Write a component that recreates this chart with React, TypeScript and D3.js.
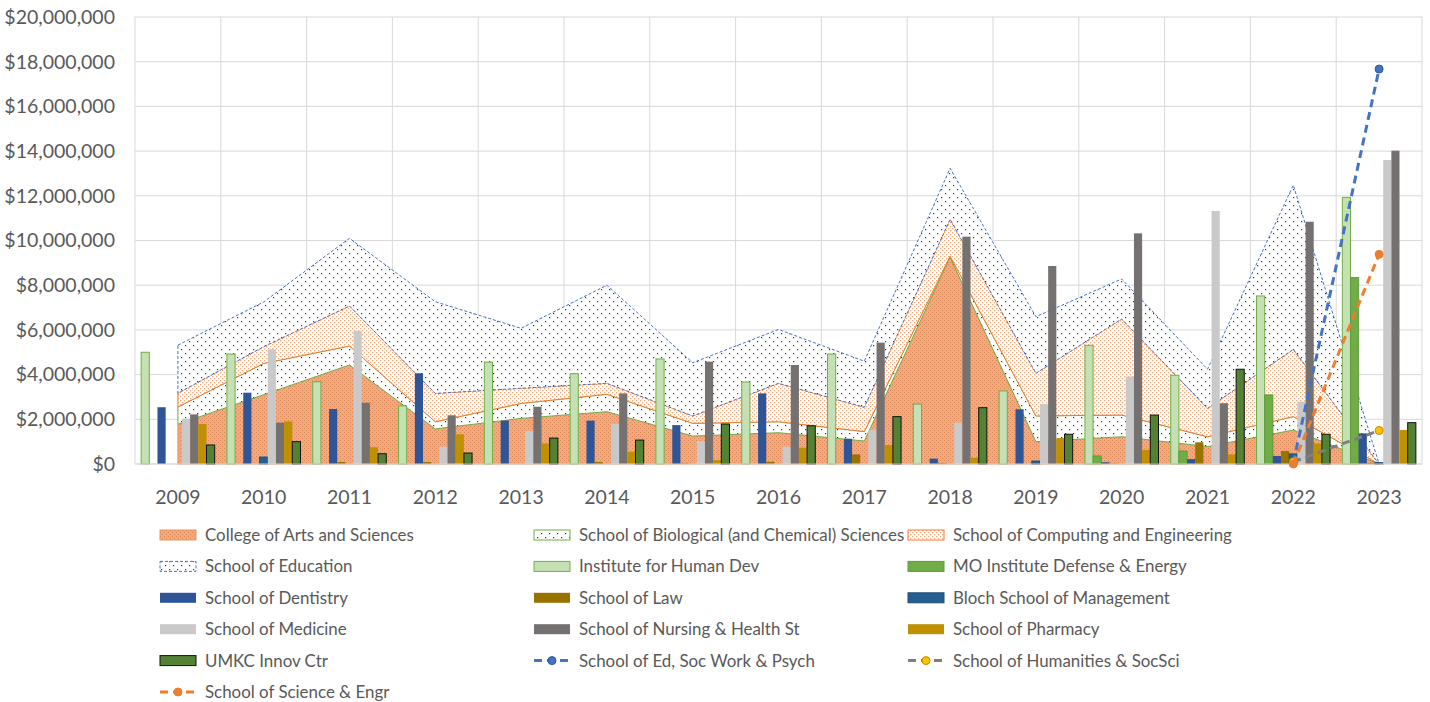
import * as d3 from "d3";

// values in millions of dollars
const years = ["2009", "2010", "2011", "2012", "2013", "2014", "2015", "2016", "2017", "2018", "2019", "2020", "2021", "2022", "2023"];

// stacked areas
const artsSci = [1.78, 3.1, 4.43, 1.57, 2.04, 2.34, 1.25, 1.4, 1.03, 9.25, 1.0, 1.22, 0.78, 1.52, 0];
const bioSci = [0.77, 1.4, 0.85, 0.32, 0.67, 0.78, 0.57, 0.49, 0.42, 0.05, 1.15, 0.97, 0.44, 0.6, 0];
const compEng = [0.62, 0.75, 1.79, 1.27, 0.68, 0.49, 0.33, 1.72, 1.09, 1.65, 1.91, 4.3, 1.27, 3.01, 0];
const education = [2.15, 2.0, 3.03, 4.1, 2.68, 4.39, 2.38, 2.41, 2.06, 2.28, 2.53, 1.79, 1.75, 7.35, 0];

// clustered bars
const humanDev = [5.0, 4.92, 3.68, 2.6, 4.56, 4.04, 4.7, 3.67, 4.92, 2.68, 3.27, 5.31, 3.97, 7.52, 11.93];
const moDefense = [0, 0, 0, 0, 0, 0, 0, 0, 0, 0, 0, 0.36, 0.58, 3.09, 8.34];
const dentistry = [2.54, 3.19, 2.46, 4.06, 1.94, 1.94, 1.74, 3.16, 1.13, 0.24, 2.45, 0.08, 0.22, 0.36, 1.37];
const law = [0, 0, 0.09, 0.09, 0, 0.09, 0.03, 0.1, 0.43, 0.04, 0, 0.02, 0.97, 0.58, 0.05];
const bloch = [0, 0.31, 0, 0, 0, 0, 0, 0, 0, 0, 0.13, 0, 0, 0.45, 0.06];
const medicine = [2.03, 5.13, 5.96, 0.78, 1.48, 1.79, 1.03, 0.78, 1.52, 1.85, 2.68, 3.91, 11.32, 2.79, 13.6];
const nursing = [2.22, 1.85, 2.74, 2.18, 2.56, 3.16, 4.58, 4.43, 5.43, 10.17, 8.86, 10.32, 2.72, 10.84, 14.02];
const pharmacy = [1.79, 1.91, 0.75, 1.33, 0.92, 0.55, 0.18, 0.73, 0.85, 0.28, 1.16, 0.63, 0.43, 0.92, 1.52];
const innovCtr = [0.85, 1.0, 0.46, 0.49, 1.16, 1.07, 1.79, 1.71, 2.12, 2.52, 1.33, 2.19, 4.24, 1.33, 1.85];

// lines (only the last two years)
const edSocWork = [null, null, null, null, null, null, null, null, null, null, null, null, null, 0.05, 17.67];
const humSocSci = [null, null, null, null, null, null, null, null, null, null, null, null, null, 0.1, 1.5];
const sciEngr = [null, null, null, null, null, null, null, null, null, null, null, null, null, 0, 9.38];

const yTicks = [0, 2, 4, 6, 8, 10, 12, 14, 16, 18, 20];
const yTickLabels = ["$0", "$2,000,000", "$4,000,000", "$6,000,000", "$8,000,000", "$10,000,000", "$12,000,000", "$14,000,000", "$16,000,000", "$18,000,000", "$20,000,000"];

const FONT = "Lato, 'Open Sans', sans-serif";
const TXT = "#595959";

type AreaDef = { key: string; label: string; values: number[]; fill: string; stroke: string; dash?: string };
type BarDef = { key: string; label: string; values: number[]; fill: string; stroke?: string };
type LineDef = { key: string; label: string; values: (number | null)[]; color: string; marker: string; markerStroke: string };

const areas: AreaDef[] = [
  { key: "arts", label: "College of Arts and Sciences", values: artsSci, fill: "url(#patArts)", stroke: "#E9965F" },
  { key: "bio", label: "School of Biological (and Chemical) Sciences", values: bioSci, fill: "url(#patDots)", stroke: "#70AD47" },
  { key: "comp", label: "School of Computing and Engineering", values: compEng, fill: "url(#patComp)", stroke: "#ED7D31" },
  { key: "edu", label: "School of Education", values: education, fill: "url(#patDots)", stroke: "#4472C4", dash: "3 2" },
];

const bars: BarDef[] = [
  { key: "ihd", label: "Institute for Human Dev", values: humanDev, fill: "#C5E0B4", stroke: "#70AD47" },
  { key: "mo", label: "MO Institute Defense & Energy", values: moDefense, fill: "#70AD47", stroke: "#5E9A3A" },
  { key: "dent", label: "School of Dentistry", values: dentistry, fill: "#2F5597" },
  { key: "law", label: "School of Law", values: law, fill: "#997300" },
  { key: "bloch", label: "Bloch School of Management", values: bloch, fill: "#255E91", stroke: "#1F4E79" },
  { key: "med", label: "School of Medicine", values: medicine, fill: "#C9C9C9" },
  { key: "nurs", label: "School of Nursing & Health St", values: nursing, fill: "#767171" },
  { key: "pharm", label: "School of Pharmacy", values: pharmacy, fill: "#BF9000" },
  { key: "umkc", label: "UMKC Innov Ctr", values: innovCtr, fill: "#548235", stroke: "#111" },
];

const lines: LineDef[] = [
  { key: "esw", label: "School of Ed, Soc Work & Psych", values: edSocWork, color: "#4472C4", marker: "#4472C4", markerStroke: "#2F5597" },
  { key: "hum", label: "School of Humanities & SocSci", values: humSocSci, color: "#7F7F7F", marker: "#FFC000", markerStroke: "#BF9000" },
  { key: "sci", label: "School of Science & Engr", values: sciEngr, color: "#ED7D31", marker: "#ED7D31", markerStroke: "#ED7D31" },
];

const legendOrder: string[] = [
  "arts", "bio", "comp",
  "edu", "ihd", "mo",
  "dent", "law", "bloch",
  "med", "nurs", "pharm",
  "umkc", "esw", "hum",
  "sci",
];

const PLOT = { left: 135, right: 1422, top: 17, bottom: 464 };

export default function App() {
  const x = d3.scaleBand<string>().domain(years).range([PLOT.left, PLOT.right]).padding(0);
  const xc = (yr: string) => x(yr)! + x.bandwidth() / 2;
  const inner = d3
    .scaleBand<string>()
    .domain(bars.map((b) => b.key))
    .range([0, x.bandwidth()])
    .paddingInner(0)
    .paddingOuter(0.75);
  const y = d3.scaleLinear().domain([0, 20]).range([PLOT.bottom, PLOT.top]);

  const table = years.map((yr, i) => {
    const row: Record<string, number | string> = { year: yr };
    areas.forEach((a) => (row[a.key] = a.values[i]));
    return row;
  });
  const stacked = d3.stack<Record<string, number | string>>().keys(areas.map((a) => a.key))(table as any);
  const areaGen = d3
    .area<d3.SeriesPoint<Record<string, number | string>>>()
    .x((d) => xc(d.data.year as string))
    .y0((d) => y(d[0]))
    .y1((d) => y(d[1]));

  const lineGen = d3
    .line<{ yr: string; v: number | null }>()
    .defined((d) => d.v != null)
    .x((d) => xc(d.yr))
    .y((d) => y(d.v as number));

  const allDefs: Record<string, { kind: "area" | "bar" | "line"; def: any }> = {};
  areas.forEach((a) => (allDefs[a.key] = { kind: "area", def: a }));
  bars.forEach((b) => (allDefs[b.key] = { kind: "bar", def: b }));
  lines.forEach((l) => (allDefs[l.key] = { kind: "line", def: l }));

  const colX = [205, 579, 953];
  const rowY = (r: number) => 535 + r * 31.4;

  return (
    <svg
      width={1430}
      height={702}
      style={{ position: "absolute", left: 0, top: 0, background: "#fff" }}
      fontFamily={FONT}
    >
      <defs>
        <pattern id="patArts" width={4} height={4} patternUnits="userSpaceOnUse">
          <rect width={4} height={4} fill="#F1A97F" />
          <rect x={0} y={0} width={1} height={1} fill="#DB8454" />
          <rect x={2} y={2} width={1} height={1} fill="#DB8454" />
        </pattern>
        <pattern id="patComp" width={4} height={4} patternUnits="userSpaceOnUse">
          <rect width={4} height={4} fill="#fff" />
          <rect x={0} y={0} width={1.3} height={1.3} fill="#F2A97C" />
          <rect x={2} y={2} width={1.3} height={1.3} fill="#F2A97C" />
        </pattern>
        <pattern id="patDots" width={8} height={8} patternUnits="userSpaceOnUse">
          <rect width={8} height={8} fill="#fff" />
          <rect x={1} y={1} width={1.2} height={1.2} fill="#333" />
          <rect x={5} y={5} width={1.2} height={1.2} fill="#333" />
        </pattern>
      </defs>

      {/* gridlines */}
      <g stroke="#D9D9D9" strokeWidth={1}>
        {yTicks.map((t) => (
          <line key={"h" + t} x1={PLOT.left} x2={PLOT.right} y1={y(t)} y2={y(t)} />
        ))}
        {years.map((yr) => (
          <line key={"v" + yr} x1={x(yr)!} x2={x(yr)!} y1={PLOT.top} y2={PLOT.bottom} />
        ))}
        <line x1={PLOT.right} x2={PLOT.right} y1={PLOT.top} y2={PLOT.bottom} />
      </g>

      {/* y tick labels */}
      {yTicks.map((t, i) => (
        <text key={"yl" + t} x={115} y={y(t)} dy="0.35em" textAnchor="end" fontSize={19.5} fill={TXT}>
          {yTickLabels[i]}
        </text>
      ))}

      {/* stacked areas */}
      {stacked.map((s, i) => (
        <path
          key={s.key}
          d={areaGen(s) || ""}
          fill={areas[i].fill}
          stroke={areas[i].stroke}
          strokeWidth={1}
          strokeDasharray={areas[i].dash}
        />
      ))}

      {/* clustered bars */}
      {bars.map((b) => (
        <g key={b.key}>
          {b.values.map((v, i) =>
            v > 0 ? (
              <rect
                key={years[i]}
                x={x(years[i])! + inner(b.key)!}
                y={y(v)}
                width={inner.bandwidth()}
                height={y(0) - y(v)}
                fill={b.fill}
                stroke={b.stroke || "none"}
                strokeWidth={b.stroke ? 1 : 0}
              />
            ) : null
          )}
        </g>
      ))}

      {/* x axis */}
      <line x1={PLOT.left} x2={PLOT.right} y1={y(0)} y2={y(0)} stroke="#D9D9D9" />
      {years.map((yr) => (
        <text key={"xl" + yr} x={xc(yr)} y={497} dy="0.35em" textAnchor="middle" fontSize={19.5} fill={TXT}>
          {yr}
        </text>
      ))}

      {/* lines */}
      {lines.map((l) => {
        const pts = years.map((yr, i) => ({ yr, v: l.values[i] }));
        return (
          <g key={l.key}>
            <path d={lineGen(pts) || ""} fill="none" stroke={l.color} strokeWidth={3} strokeDasharray="8 5" />
            {pts
              .filter((p) => p.v != null)
              .map((p) => (
                <circle key={p.yr} cx={xc(p.yr)} cy={y(p.v as number)} r={4} fill={l.marker} stroke={l.markerStroke} strokeWidth={1} />
              ))}
          </g>
        );
      })}

      {/* legend */}
      {legendOrder.map((key, idx) => {
        const col = idx % 3;
        const row = Math.floor(idx / 3);
        const tx = colX[col];
        const ty = rowY(row);
        const sx = tx - 45;
        const entry = allDefs[key];
        let swatch;
        if (entry.kind === "area") {
          const a = entry.def as AreaDef;
          swatch = (
            <rect x={sx} y={ty - 5} width={36} height={10} fill={a.fill} stroke={a.stroke} strokeWidth={1} strokeDasharray={a.dash} />
          );
        } else if (entry.kind === "bar") {
          const b = entry.def as BarDef;
          swatch = <rect x={sx} y={ty - 5} width={36} height={10} fill={b.fill} stroke={b.stroke || "none"} strokeWidth={1} />;
        } else {
          const l = entry.def as LineDef;
          swatch = (
            <g>
              <line x1={sx} x2={sx + 36} y1={ty} y2={ty} stroke={l.color} strokeWidth={3} strokeDasharray="8 5" />
              <circle cx={sx + 18} cy={ty} r={4} fill={l.marker} stroke={l.markerStroke} />
            </g>
          );
        }
        return (
          <g key={"lg" + key}>
            {swatch}
            <text x={tx} y={ty} dy="0.35em" fontSize={16.9} fill={TXT}>
              {entry.def.label}
            </text>
          </g>
        );
      })}
    </svg>
  );
}
